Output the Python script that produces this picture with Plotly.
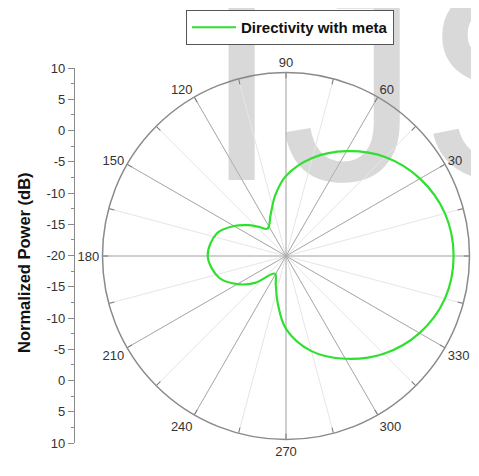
import plotly.graph_objects as go

# ---- data ----
THETA = [0, 15, 30, 45, 60, 75, 90, 100, 110, 124, 133, 141, 150, 162, 180,
         198, 210, 221, 238, 250, 260, 270, 285, 300, 315, 330, 345, 360]
R_DB = [7.4, 6.9, 5.3, 2.9, -0.2, -3.4, -6.9, -9.9, -12.7, -14.6, -13.5, -12.0, -10.2, -8.1, -7.2,
        -8.5, -10.8, -13.3, -16.6, -15.1, -12.2, -8.1, -3.9, -0.6, 2.6, 5.2, 6.9, 7.4]
SERIES_NAME = "Directivity with meta"

ANG_TICKS = list(range(0, 360, 15))
ANG_LABELS = [str(a) if a % 30 == 0 else "" for a in ANG_TICKS]
SPOKES = list(range(0, 360, 30))
R_MIN, R_MAX = -20, 10

LEFT_TICKVALS = list(range(-30, 31, 5))
LEFT_TICKTEXT = ["10", "5", "0", "-5", "-10", "-15", "-20", "-15", "-10", "-5", "0", "5", "10"]
LEFT_MINOR = [v + 2.5 for v in range(-30, 30, 5)]

# page size and the 8px offset of the page body
W, H = 479, 476
OFF = 8
FW, FH = W - OFF, H - OFF
FONT = "Liberation Sans, Arial, sans-serif"


def px(x):
    return (x - OFF) / FW


def py(y):
    return 1 - (y - OFF) / FH


fig = go.Figure()

# watermark (background text)
fig.add_trace(go.Scatter(x=[405], y=[110], mode="text", text=["IJS"],
                         textfont=dict(size=280, color="#d9d9d9", family=FONT),
                         cliponaxis=True,
                         xaxis="x2", yaxis="y2", showlegend=False, hoverinfo="skip"))

# dark spokes every 30 degrees
sp_r, sp_t = [], []
for a in SPOKES:
    sp_r += [R_MIN, R_MAX, None]
    sp_t += [a, a, None]
fig.add_trace(go.Scatterpolar(r=sp_r, theta=sp_t, mode="lines",
                              line=dict(color="#ababab", width=1),
                              showlegend=False, hoverinfo="skip"))

fig.add_trace(go.Scatterpolar(r=R_DB, theta=THETA, mode="lines", name=SERIES_NAME,
                              line=dict(color="#2fe02f", width=2.2, shape="spline", smoothing=1.0)))

# left linear scale
fig.add_trace(go.Scatter(x=[0], y=[0], mode="markers", marker=dict(opacity=0),
                         showlegend=False, hoverinfo="skip"))

R_REQ = 183.5
CX, CY = 286, 256
fig.update_layout(
    width=FW, height=FH,
    margin=dict(l=0, r=0, t=0, b=0, autoexpand=False),
    paper_bgcolor="white",
    plot_bgcolor="rgba(0,0,0,0)",
    font=dict(family=FONT, color="#333333", size=13),
    polar=dict(
        domain=dict(x=[px(CX - R_REQ), px(CX + R_REQ)],
                    y=[py(CY + R_REQ), py(CY - R_REQ)]),
        bgcolor="rgba(0,0,0,0)",
        radialaxis=dict(range=[R_MIN, R_MAX], showgrid=False, showline=False,
                        showticklabels=False, ticks=""),
        angularaxis=dict(rotation=0, direction="counterclockwise",
                         tickmode="array", tickvals=ANG_TICKS, ticktext=ANG_LABELS,
                         showgrid=True, gridcolor="#e6e6e6", gridwidth=1,
                         showline=True, linecolor="#8a8a8a", linewidth=1.5,
                         ticks="inside", ticklen=5, tickcolor="#777777",
                         tickfont=dict(size=13, color="#333333")),
    ),
    xaxis=dict(domain=[px(75), px(76)], visible=False, range=[-1, 1], fixedrange=True),
    yaxis=dict(domain=[py(443), py(68)], range=[-30, 30], anchor="x",
               showline=True, linecolor="#8a8a8a", linewidth=1.2,
               showgrid=False, zeroline=False,
               tickmode="array", tickvals=LEFT_TICKVALS, ticktext=LEFT_TICKTEXT,
               ticks="outside", ticklen=6, tickcolor="#8a8a8a",
               tickfont=dict(size=13, color="#333333"),
               minor=dict(tickvals=LEFT_MINOR, ticks="outside", ticklen=3, tickcolor="#8a8a8a")),
    xaxis2=dict(domain=[0, 1], range=[OFF, W], visible=False, fixedrange=True),
    yaxis2=dict(domain=[0, 1], range=[H, OFF], visible=False, anchor="x2", fixedrange=True),
    legend=dict(x=px(186), y=py(10), xanchor="left", yanchor="top", itemwidth=44,
                bgcolor="white", bordercolor="#555555", borderwidth=1,
                font=dict(size=15, color="#111111", family=FONT, weight="bold")),
    showlegend=True,
    annotations=[dict(text="<b>Normalized Power (dB)</b>", textangle=-90,
                      x=px(24), y=py(263), xref="paper", yref="paper",
                      xanchor="center", yanchor="middle",
                      showarrow=False, font=dict(size=16.5, color="#111111"))],
)

fig.write_html("out.html")
